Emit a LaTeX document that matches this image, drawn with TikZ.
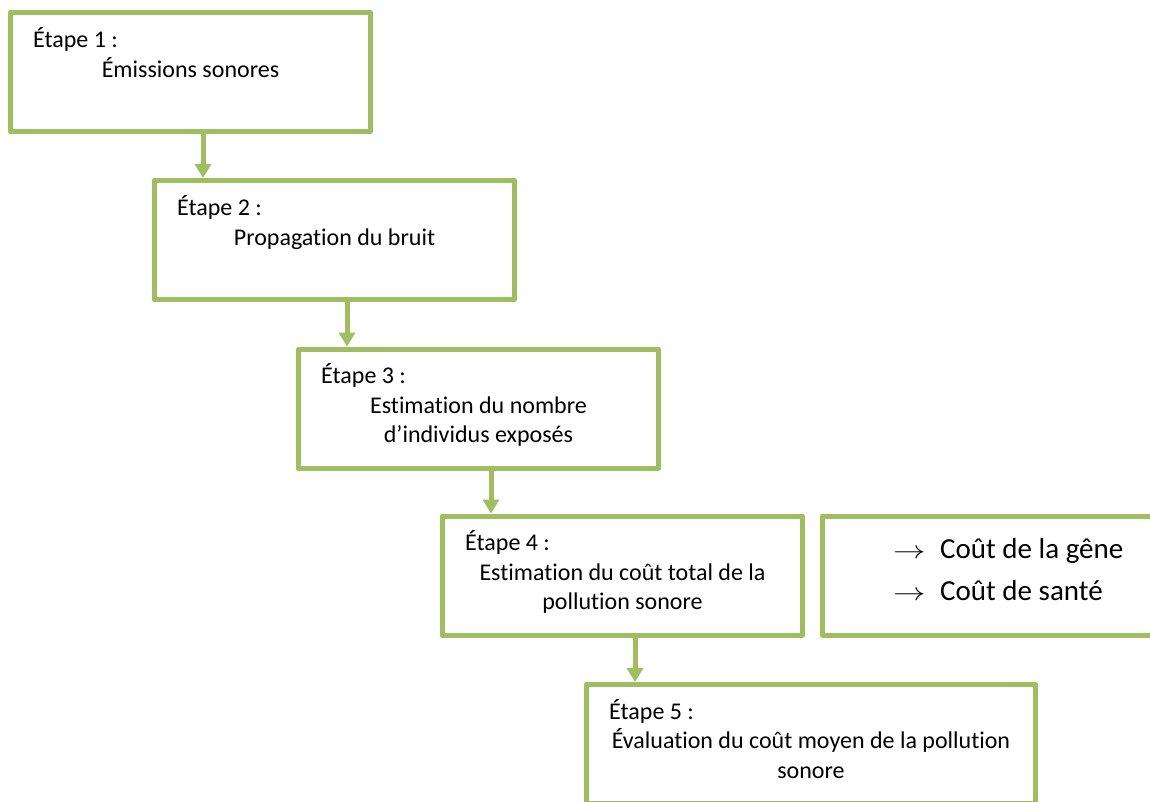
\documentclass[tikz,border=0pt]{standalone}
\usepackage{graphicx}
\usepackage{fontspec}
\setmainfont[Ligatures=NoCommon]{Carlito}
\usetikzlibrary{arrows.meta,calc}

\definecolor{stepgreen}{HTML}{9FBE5F}
\newcommand{\costarrow}{\makebox[47pt][l]{\scalebox{1.3}[1]{$\rightarrow$}}}
\tikzset{
    stepbox/.style={draw=stepgreen, line width=5pt, line join=round, minimum width=360pt, minimum height=119pt, inner sep=0pt},
    flow/.style={draw=stepgreen, line width=5pt, -{Triangle[width=16pt,length=14pt]}},
    steptitle/.style={anchor=base west, inner sep=0pt, font=\fontsize{24}{29.5}\selectfont},
    stepbody/.style={anchor=base, align=center, inner sep=0pt, font=\fontsize{24}{29.5}\selectfont},
}

\begin{document}
\begin{tikzpicture}[x=1pt, y=-1pt, line cap=round]
                \useasboundingbox (0, 0) rectangle (1150, 801);
                \clip (0, 0) rectangle (1150, 801);

                % Step 1
                \node[stepbox] (s1) at (190.5, 72) {};
                \node[steptitle] (t1) at ($(s1.north west)+(25, 37)$) {Étape 1 :};
                \node[stepbody] (d1) at ($(s1.north)+(0, 67)$) {Émissions sonores};

                % Step 2
                \node[stepbox] (s2) at (334.5, 240) {};
                \node[steptitle] (t2) at ($(s2.north west)+(25, 37)$) {Étape 2 :};
                \node[stepbody] (d2) at ($(s2.north)+(0, 67)$) {Propagation du bruit};

                % Step 3 (base = last line)
                \node[stepbox] (s3) at (478.5, 408.5) {};
                \node[steptitle] (t3) at ($(s3.north west)+(25, 37)$) {Étape 3 :};
                \node[stepbody] (d3) at ($(s3.north)+(0, 96)$) {Estimation du nombre\\d’individus exposés};

                % Step 4
                \node[stepbox] (s4) at (622.5, 575.5) {};
                \node[steptitle] (t4) at ($(s4.north west)+(25, 37)$) {Étape 4 :};
                \node[stepbody] (d4) at ($(s4.north)+(0, 96)$) {Estimation du coût total de la\\pollution sonore};

                % Costs
                \node[stepbox] (cost) at (1002.5, 575.5) {};
                \node[anchor=base west, align=left, inner sep=0pt, font=\fontsize{29}{42}\selectfont] (costs) at ($(cost.north west)+(73, 87)$)
                    {\costarrow Coût de la gêne\\\costarrow Coût de santé};

                % Step 5
                \node[stepbox, minimum width=449pt] (s5) at (811, 744) {};
                \node[steptitle] (t5) at ($(s5.north west)+(25, 37.5)$) {Étape 5 :};
                \node[stepbody] (d5) at ($(s5.north)+(0, 96)$) {Évaluation du coût moyen de la pollution\\sonore};

                % Arrows
                \coordinate (a2) at ($(s2.north west)+(51, 0)$);
                \coordinate (a3) at ($(s3.north west)+(51, 0)$);
                \coordinate (a4) at ($(s4.north west)+(51, 0)$);
                \coordinate (a5) at ($(s5.north west)+(51, 0)$);
                \draw[flow] (s1.south -| a2) -- (a2);
                \draw[flow] (s2.south -| a3) -- (a3);
                \draw[flow] (s3.south -| a4) -- (a4);
                \draw[flow] (s4.south -| a5) -- (a5);
\end{tikzpicture}
\end{document}
